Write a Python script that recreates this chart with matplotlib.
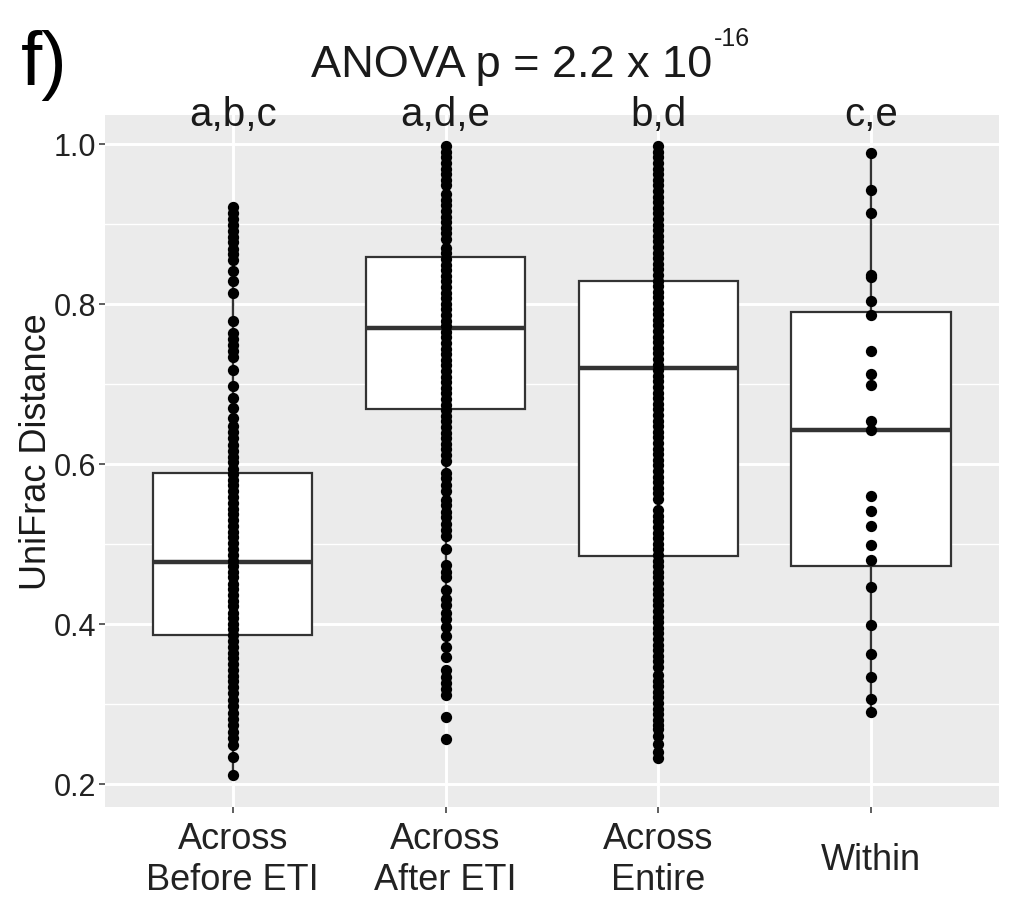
#!/usr/bin/env python3
"""Boxplot + pontos de distância UniFrac por grupo (painel f)."""

import numpy as np
import matplotlib
matplotlib.use('Agg')
import matplotlib.pyplot as plt

# Categorias e letras de significância
categories = ['Across\nBefore ETI', 'Across\nAfter ETI', 'Across\nEntire', 'Within']
letters = ['a,b,c', 'a,d,e', 'b,d', 'c,e']

# Pontos (distância UniFrac)
before_eti = [
    0.921, 0.914, 0.906, 0.899, 0.891, 0.884, 0.877, 0.869, 0.862, 0.855,
    0.841, 0.828, 0.814,
    0.779, 0.763, 0.756, 0.748, 0.741, 0.734,
    0.717, 0.697, 0.682, 0.670, 0.657,
    0.647, 0.640, 0.632, 0.624,
    0.616, 0.609, 0.602, 0.594, 0.587, 0.580, 0.573, 0.566, 0.558, 0.551,
    0.544, 0.537, 0.530, 0.522, 0.515, 0.508, 0.501, 0.494, 0.486, 0.479,
    0.472, 0.465, 0.458, 0.450, 0.443, 0.436, 0.429, 0.422, 0.414, 0.407,
    0.400, 0.393, 0.386, 0.378, 0.371, 0.364, 0.357, 0.350, 0.342, 0.335,
    0.328, 0.321, 0.314,
    0.305, 0.297, 0.289, 0.281, 0.273, 0.265, 0.257,
    0.249, 0.233, 0.211,
]
after_eti = [
    0.997, 0.990, 0.983, 0.976, 0.969, 0.962, 0.955, 0.948, 0.937, 0.930,
    0.923, 0.916, 0.909, 0.902, 0.895, 0.888, 0.881, 0.870, 0.863, 0.856,
    0.849, 0.842, 0.835, 0.828, 0.821, 0.814, 0.807, 0.800, 0.793, 0.786,
    0.779, 0.772, 0.765, 0.758, 0.751, 0.744, 0.737, 0.730, 0.723, 0.716,
    0.709, 0.702, 0.695, 0.688, 0.681, 0.674, 0.667, 0.660, 0.653, 0.646,
    0.639, 0.632, 0.625, 0.618, 0.611, 0.604,
    0.589, 0.582, 0.574, 0.566,
    0.555, 0.548, 0.540, 0.533, 0.525, 0.517, 0.510,
    0.493, 0.473, 0.465, 0.458, 0.442,
    0.431, 0.423, 0.414, 0.406, 0.396, 0.385, 0.371, 0.359,
    0.342, 0.334, 0.326, 0.318, 0.311,
    0.283, 0.256,
]
entire = [
    0.997, 0.990, 0.983, 0.976, 0.969, 0.962, 0.955, 0.948, 0.941, 0.934,
    0.927, 0.920, 0.913, 0.906, 0.899, 0.892, 0.885, 0.878, 0.871, 0.864,
    0.857, 0.850, 0.843, 0.836, 0.829, 0.822, 0.815, 0.808, 0.801, 0.794,
    0.787, 0.780, 0.773, 0.766, 0.759, 0.752, 0.745, 0.738, 0.731, 0.724,
    0.717, 0.710, 0.703, 0.696, 0.689, 0.682, 0.675, 0.668, 0.661, 0.654,
    0.647, 0.640, 0.633, 0.626, 0.619, 0.612, 0.605, 0.598, 0.591, 0.584,
    0.577, 0.570, 0.563, 0.556,
    0.542, 0.535, 0.528, 0.521, 0.514, 0.507, 0.500, 0.493, 0.486, 0.479,
    0.472, 0.465, 0.458, 0.451, 0.444, 0.437, 0.430, 0.423, 0.416, 0.409,
    0.402, 0.395, 0.388, 0.381, 0.374, 0.367, 0.360, 0.353, 0.346, 0.336,
    0.329, 0.322, 0.315, 0.308, 0.301, 0.294, 0.287, 0.280, 0.273, 0.268,
    0.260, 0.250, 0.240, 0.232,
]
within = [
    0.989, 0.942, 0.914, 0.836, 0.833, 0.803, 0.786, 0.741, 0.712, 0.698,
    0.653, 0.642, 0.560, 0.541, 0.522, 0.499, 0.480, 0.446, 0.399, 0.362,
    0.333, 0.306, 0.290,
]

# Estatísticas das caixas
box_q1 = [0.386, 0.669, 0.485, 0.472]
box_med = [0.477, 0.770, 0.720, 0.642]
box_q3 = [0.589, 0.858, 0.828, 0.790]
whisker_lo = [0.211, 0.442, 0.232, 0.290]
whisker_hi = [0.891, 0.997, 0.997, 0.989]

y_ticks = [0.2, 0.4, 0.6, 0.8, 1.0]
y_minor = [0.3, 0.5, 0.7, 0.9]

plt.rcParams['font.family'] = ['Liberation Sans', 'DejaVu Sans']

fig = plt.figure(figsize=(10.15, 9.03), dpi=100)
ax = fig.add_axes([0.1034, 0.1052, 0.8808, 0.7663])

ax.set_facecolor('#EBEBEB')
for sp in ax.spines.values():
    sp.set_visible(False)

groups = [before_eti, after_eti, entire, within]
positions = np.arange(1, len(categories) + 1)

stats = [dict(q1=box_q1[i], med=box_med[i], q3=box_q3[i],
              whislo=whisker_lo[i], whishi=whisker_hi[i])
         for i in range(len(categories))]
ax.bxp(stats, positions=positions, widths=0.75, showfliers=False,
       showcaps=False, patch_artist=True, manage_ticks=False,
       boxprops=dict(facecolor='white', edgecolor='#333333', linewidth=1.6),
       medianprops=dict(color='#333333', linewidth=3.2),
       whiskerprops=dict(color='#333333', linewidth=1.7), zorder=2)

for pos, vals in zip(positions, groups):
    ax.scatter(np.full(len(vals), pos), vals, s=66, color='black',
               linewidths=0, zorder=3)

ax.set_xlim(0.4, 4.6)
ax.set_ylim(0.171, 1.036)

ax.set_yticks(y_ticks)
ax.set_yticklabels([f'{v:.1f}' for v in y_ticks], fontsize=22, color='#222222')
ax.set_yticks(y_minor, minor=True)
ax.set_xticks(positions)
ax.set_xticklabels(categories, fontsize=26, color='#222222',
                   va='center', linespacing=1.2)

ax.set_axisbelow(True)
ax.grid(which='major', color='white', linewidth=2.1)
ax.grid(which='minor', axis='y', color='white', linewidth=1.0)
ax.tick_params(axis='y', which='major', length=4.5, width=1.1,
               color='#333333', pad=2)
ax.tick_params(axis='x', which='major', length=4.5, width=1.1,
               color='#333333', pad=33)
ax.tick_params(which='minor', length=0)

# Letras de significância acima de cada grupo
for pos, lab in zip(positions, letters):
    ax.text(pos, 1.023, lab, ha='center', va='baseline', fontsize=29,
            color='#1a1a1a', clip_on=False)

fig.text(0.036, 0.50, 'UniFrac Distance', rotation=90, ha='center',
         va='center', fontsize=26, color='#1a1a1a')

title = fig.text(0.504, 1 - 77 / 903, 'ANOVA p = 2.2 x 10', ha='center',
                 va='baseline', fontsize=32.5, color='#1a1a1a')
ax.annotate('-16', xy=(1, 1), xycoords=title, xytext=(1, 13),
            textcoords='offset points', ha='left', va='top',
            fontsize=18, color='#1a1a1a')

fig.text(0.021, 1 - 85 / 903, 'f)', ha='left', va='baseline', fontsize=55,
         color='black')

fig.savefig('out.png', dpi=100)
plt.close(fig)
